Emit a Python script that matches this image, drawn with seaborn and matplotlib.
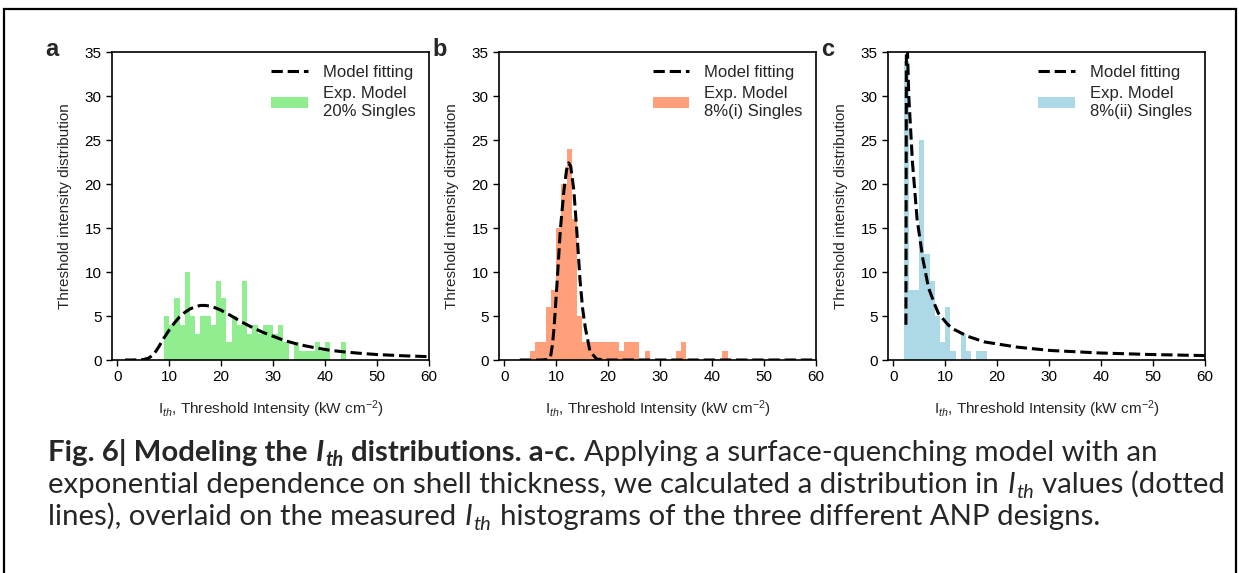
import numpy as np
import pandas as pd
import matplotlib
matplotlib.use("Agg")
import matplotlib.pyplot as plt
import seaborn as sns
from matplotlib.lines import Line2D
from matplotlib.patches import Patch, Rectangle
from matplotlib.transforms import IdentityTransform

# ---- histogram counts (1 kW cm^-2 bins, left edges) ----
a_bins = list(range(9, 44))
a_counts = [5, 4, 7, 4, 10, 5, 3, 5, 5, 4, 9, 7, 2, 5, 4, 9, 3, 4, 3, 4,
            4, 3, 4, 2, 0, 2, 1, 1, 1, 2, 1, 2, 0, 0, 2]

b_bins = list(range(5, 43))
b_counts = [1, 2, 2, 6, 8, 15, 20, 24, 16, 5, 2, 2, 2, 2, 2, 2, 2, 1, 2, 2,
            2, 0, 1, 0, 0, 0, 0, 0, 1, 2, 0, 0, 0, 0, 0, 0, 0, 1]

c_bins = list(range(2, 18))
c_counts = [34, 8, 8, 25, 12, 9, 5, 2, 6, 1, 0, 3, 1, 0, 1, 1]

# ---- model fitting curves ----
a_fit_x = [1.5, 3, 5, 6, 7, 8, 9, 10, 11, 12, 13, 14, 15, 16, 17, 18, 19, 20,
           22, 24, 26, 28, 30, 32, 35, 38, 41, 44, 47, 50, 55, 60]
a_fit_y = [0, 0, 0.05, 0.2, 0.6, 1.5, 2.5, 3.4, 4.2, 4.9, 5.4, 5.8, 6.05, 6.2,
           6.2, 6.1, 5.9, 5.65, 5.0, 4.3, 3.7, 3.15, 2.7, 2.25, 1.75, 1.4,
           1.1, 0.9, 0.75, 0.62, 0.48, 0.38]

b_fit_x = [3, 7, 8.3, 8.9, 9.3, 9.6, 10.2, 10.8, 11.5, 12.0, 12.4, 12.8, 13.4,
           14.0, 14.6, 15.1, 15.6, 16.5, 17.8, 20, 60]
b_fit_y = [0, 0, 0.05, 0.3, 1.8, 3.7, 9.0, 14.8, 19.3, 21.6, 22.4, 22.0, 19.3,
           14.4, 9.0, 5.8, 3.7, 1.0, 0.1, 0, 0]

c_fit_x = [2.45, 2.55, 2.75, 3.0, 3.7, 4.6, 5.7, 6.8, 8.0, 8.7, 10.4, 11.3,
           14.3, 17.6, 23.9, 30.3, 39.7, 49.2, 60]
c_fit_y = [4, 40, 35, 30, 22.5, 16, 11.5, 8.2, 6.3, 5.3, 4.1, 3.6, 2.7, 2.05,
           1.46, 1.08, 0.8, 0.63, 0.5]

panel_letters = ["a", "b", "c"]
hist_labels = ["Exp. Model\n20% Singles", "Exp. Model\n8%(i) Singles",
               "Exp. Model\n8%(ii) Singles"]
hist_colors = ["#90ee90", "#ffa07a", "#add8e6"]
x_ticks = [0, 10, 20, 30, 40, 50, 60]
y_ticks = [0, 5, 10, 15, 20, 25, 30, 35]

sns.set_style("ticks")
plt.rcParams["font.family"] = ["Liberation Sans", "DejaVu Sans"]
plt.rcParams["mathtext.fontset"] = "custom"
plt.rcParams["mathtext.rm"] = "Liberation Sans"
plt.rcParams["mathtext.it"] = "Liberation Sans:italic"

W, H = 1239, 573
fig = plt.figure(figsize=(W / 100, H / 100), dpi=100)

panels = [
    (a_bins, a_counts, a_fit_x, a_fit_y, 112),
    (b_bins, b_counts, b_fit_x, b_fit_y, 499),
    (c_bins, c_counts, c_fit_x, c_fit_y, 888),
]

for i, (bins, counts, fx, fy, left) in enumerate(panels):
    ax = fig.add_axes([left / W, (H - 360) / H, 317 / W, 308 / H])
    hist_df = pd.DataFrame({"x": [b + 0.5 for b in bins], "n": counts})
    edges = bins + [bins[-1] + 1]
    sns.histplot(data=hist_df, x="x", weights="n", bins=edges, color=hist_colors[i],
                 alpha=1, linewidth=0, ax=ax)
    sns.lineplot(x=fx, y=fy, color="black", linewidth=2.2, linestyle="--",
                 sort=False, ax=ax)
    ax.set_xlim(-1, 60)
    ax.set_ylim(0, 35)
    ax.set_xticks(x_ticks)
    ax.set_yticks(y_ticks)
    ax.tick_params(direction="out", length=4, width=1, labelsize=11, colors="black")
    for s in ax.spines.values():
        s.set_visible(True)
        s.set_color("black")
        s.set_linewidth(1.2)
    ax.set_xlabel(r"I$_{th}$, Threshold Intensity (kW cm$^{-2}$)", fontsize=11, labelpad=10)
    ax.set_ylabel("Threshold intensity distribution", fontsize=11, labelpad=9)
    handles = [Line2D([], [], color="black", linestyle="--", linewidth=2.2),
               Patch(facecolor=hist_colors[i], edgecolor="none")]
    ax.legend(handles, ["Model fitting", hist_labels[i]], loc="upper right",
              frameon=False, fontsize=12, handlelength=2.2, handletextpad=0.9,
              labelspacing=0.35, borderaxespad=0.4)
    fig.text((left - 67) / W, (H - 56) / H, panel_letters[i], fontsize=17,
             fontweight="bold", ha="left", va="baseline")

# ---- caption with mixed bold / italic runs ----
renderer = fig.canvas.get_renderer()
cap_font = ["Lato", "DejaVu Sans"]
styles = {
    "b": ("bold", "normal", False), "bi": ("bold", "italic", False),
    "bisub": ("bold", "italic", True), "r": ("normal", "normal", False),
    "i": ("normal", "italic", False), "isub": ("normal", "italic", True),
}

caption_lines = [
    [("Fig. 6| Modeling the", "b"), (" ", "b"), ("I", "bi"), ("th", "bisub"),
     (" ", "b"), ("distributions. a-c.", "b"), (" ", "r"),
     ("Applying a surface-quenching model with an", "r")],
    [("exponential dependence on shell thickness, we calculated a distribution in", "r"),
     (" ", "r"), ("I", "i"), ("th", "isub"), (" ", "r"), ("values (dotted", "r")],
    [("lines), overlaid on the measured", "r"), (" ", "r"), ("I", "i"), ("th", "isub"),
     (" ", "r"), ("histograms of the three different ANP designs.", "r")],
]


def text_width(s, size, weight, style):
    t = fig.text(0, 0, s, fontsize=size, fontweight=weight, fontstyle=style,
                 family=cap_font, transform=IdentityTransform())
    w = t.get_window_extent(renderer).width
    t.remove()
    return w


def draw_runs(x, y, runs, size, draw=True):
    for s, kind in runs:
        weight, style, sub = styles[kind]
        fs = size * 0.68 if sub else size
        if s == " ":
            x += text_width("a a", fs, weight, style) - text_width("aa", fs, weight, style)
            continue
        dy = -0.18 * size * 100 / 72 if sub else 0
        t = fig.text(x, y + dy, s, fontsize=fs, fontweight=weight, fontstyle=style,
                     family=cap_font, transform=IdentityTransform(),
                     ha="left", va="baseline")
        x += t.get_window_extent(renderer).width + 1
        if not draw:
            t.remove()
    return x


# fit the caption size so the second line spans the same width as the reference
base = 18
w2 = draw_runs(0, 0, caption_lines[1], base, draw=False)
cap_size = base * 1174 / w2
for k, runs in enumerate(caption_lines):
    draw_runs(48, H - 461 - 32 * k, runs, cap_size)

# outer frame
fig.add_artist(Rectangle((4, -20), 1232, H - 9 + 20, transform=IdentityTransform(),
                         fill=False, edgecolor="black", linewidth=1.6))

fig.savefig("out.png", dpi=100)
